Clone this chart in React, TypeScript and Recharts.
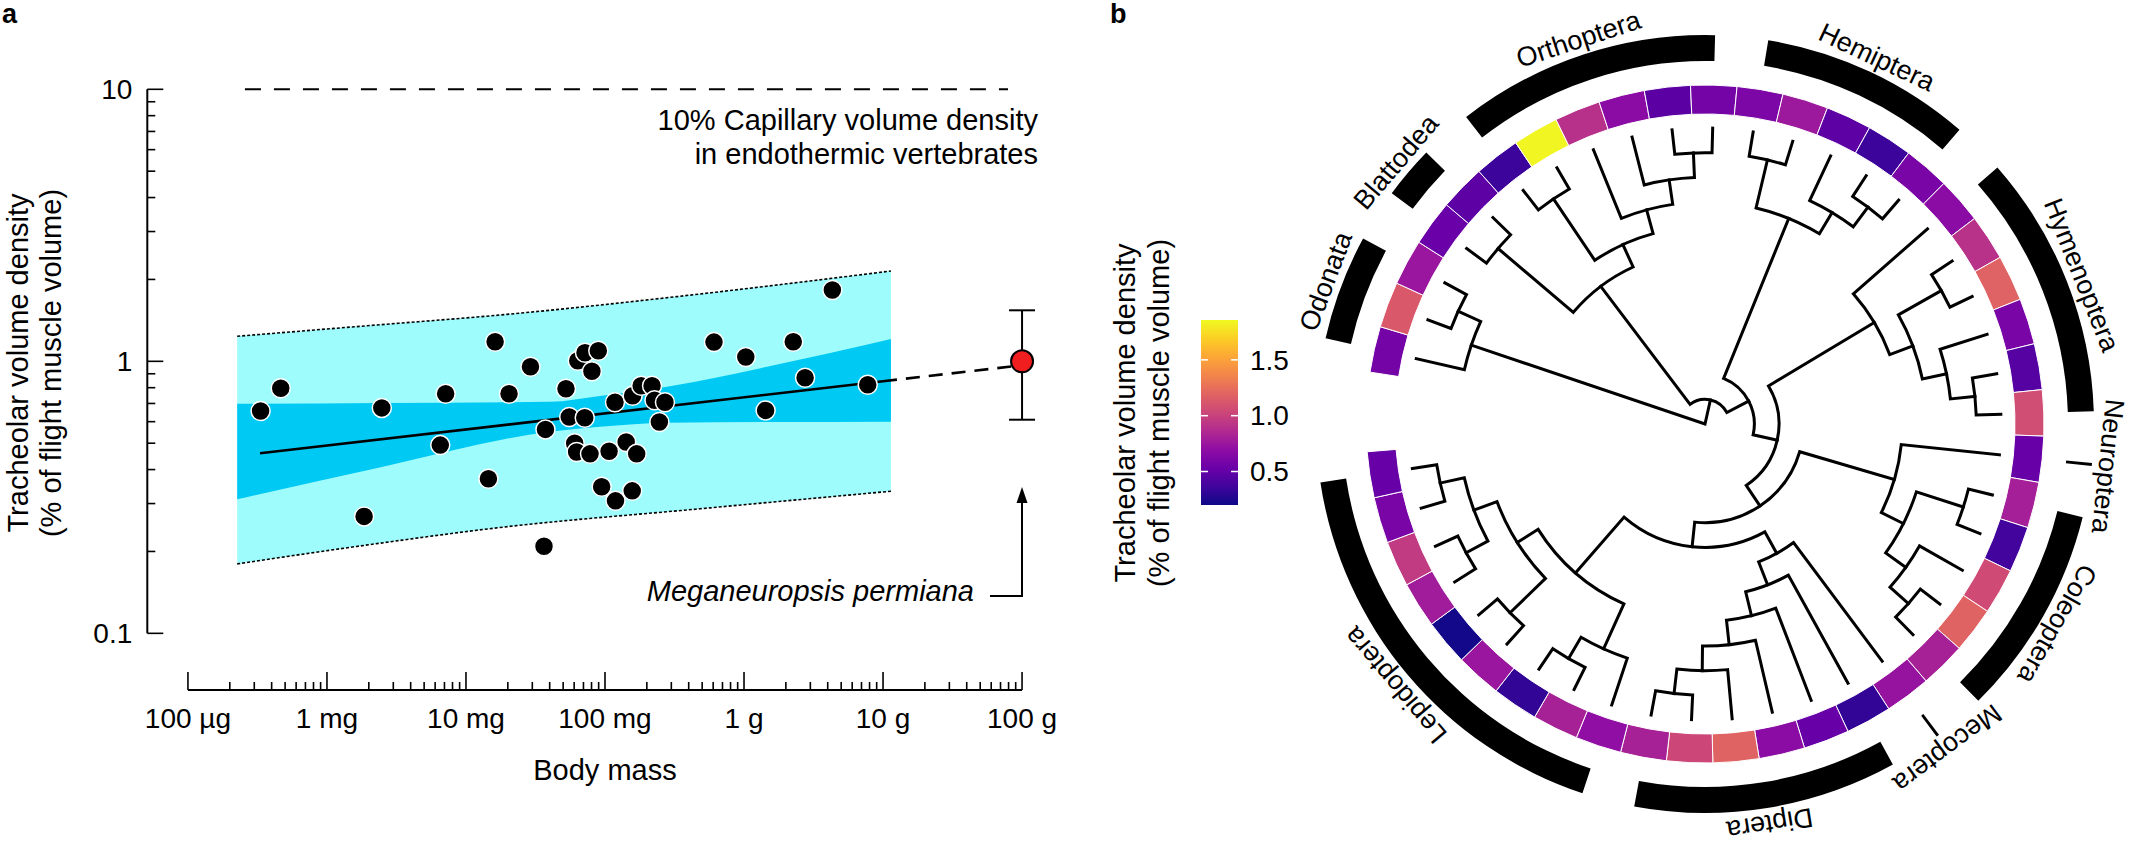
import React from 'react';
import {
  ComposedChart, Scatter, Line, Area, XAxis, YAxis, ReferenceLine, ErrorBar,
  Customized, PieChart, Pie, Cell,
} from 'recharts';

const FONT = '"Liberation Sans", Arial, Helvetica, sans-serif';

// ---------------- Panel a data ----------------
const bodyMassG = [
  0.000333, 0.000465, 0.00248, 0.00185, 0.00653, 0.00714, 0.0162, 0.0204, 0.0291, 0.0145,
  0.0364, 0.0373, 0.0524, 0.0637, 0.0718, 0.0895, 0.0805, 0.0553, 0.0715, 0.0605,
  0.0625, 0.078, 0.107, 0.142, 0.169, 0.0946, 0.119, 0.157, 0.118, 0.158,
  0.182, 0.218, 0.227, 0.27, 0.246, 0.608, 1.03, 1.43, 2.26, 2.75, 4.32, 7.76,
];
const tracheolarDensity = [
  0.657, 0.796, 0.674, 0.269, 0.492, 0.76, 1.18, 0.76, 0.955, 0.37,
  0.209, 0.562, 0.793, 1.005, 1.075, 1.094, 0.919, 0.624, 0.62, 0.5,
  0.464, 0.457, 0.467, 0.505, 0.457, 0.346, 0.307, 0.334, 0.707, 0.747,
  0.813, 0.813, 0.719, 0.707, 0.598, 1.177, 1.037, 0.66, 1.18, 0.87, 1.828, 0.82,
];

const fitMassG = [0.00033, 10];
const fitDensity = [0.459, 0.845];
const extMassG = [10, 100];
const extDensity = [0.845, 0.967];

const predMassG = [0.000226, 0.00204, 0.0176, 0.482, 11.4];
const predLow = [0.18, 0.212, 0.245, 0.287, 0.333];
const predHigh = [1.236, 1.354, 1.48, 1.768, 2.148];

const confMassG = [0.000226, 0.00253, 0.0402, 0.092, 0.279, 1.464, 11.4];
const confLow = [0.311, 0.41, 0.551, 0.575, 0.595, 0.598, 0.6];
const confHigh = [0.698, 0.703, 0.71, 0.746, 0.806, 0.955, 1.208];

const meganeuropsisMassG = [100];
const meganeuropsisDensity = [1.0];
const meganeuropsisErrLow = [0.39];
const meganeuropsisErrHigh = [0.54];

const capillaryDensity = 10;
const capillarySpanG = [0.000257, 79.3];

const massTicks = [
  1e-4, 2e-4, 3e-4, 4e-4, 5e-4, 6e-4, 7e-4, 8e-4, 9e-4,
  1e-3, 2e-3, 3e-3, 4e-3, 5e-3, 6e-3, 7e-3, 8e-3, 9e-3,
  0.01, 0.02, 0.03, 0.04, 0.05, 0.06, 0.07, 0.08, 0.09,
  0.1, 0.2, 0.3, 0.4, 0.5, 0.6, 0.7, 0.8, 0.9,
  1, 2, 3, 4, 5, 6, 7, 8, 9,
  10, 20, 30, 40, 50, 60, 70, 80, 90,
  100,
];
const massMajor = [1e-4, 1e-3, 1e-2, 1e-1, 1, 10, 100];
const massMajorLabels = ['100 µg', '1 mg', '10 mg', '100 mg', '1 g', '10 g', '100 g'];

const densityTicks = [
  0.1, 0.2, 0.3, 0.4, 0.5, 0.6, 0.7, 0.8, 0.9,
  1, 2, 3, 4, 5, 6, 7, 8, 9, 10,
];
const densityMajor = [0.1, 1, 10];
const densityMajorLabels = ['0.1', '1', '10'];

const X_DOMAIN = [5.1e-5, 187.5];
const Y_DOMAIN = [0.0619, 10];

// ---------------- Panel b data ----------------
const tipDensity = [
  0.58, 1.13, 0.75, 0.53, 0.48, 0.35, 1.84, 0.9, 0.68, 0.47, 0.58,
  0.61, 0.76, 0.48, 0.35, 0.6, 0.68, 0.91, 1.18, 0.6, 0.45, 1.06,
  0.52, 0.8, 0.37, 1.05, 1.19, 0.81, 0.73, 0.32, 0.52, 0.68, 1.19,
  1.03, 0.81, 0.7, 0.81, 0.32, 0.75, 0.22, 0.78, 0.96, 0.6, 0.52,
];
const cladeNames = ['Odonata', 'Blattodea', 'Orthoptera', 'Hemiptera', 'Hymenoptera', 'Neuroptera', 'Coleoptera', 'Mecoptera', 'Diptera', 'Lepidoptera'];
const cladeFirstTip = [1, 4, 6, 12, 17, 23, 24, 29, 30, 36];
const cladeLastTip = [3, 5, 11, 16, 22, 23, 28, 29, 35, 44];

type TreeNode = number | TreeNode[];
const phylogeny: TreeNode = [
  [1, [2, 3]],
  [
    [[4, 5], [[6, 7], [8, [9, [10, 11]]]]],
    [
      [[12, 13], [14, [15, 16]]],
      [
        [17, [[18, 19], [20, [21, 22]]]],
        [
          [23, [[24, 25], [26, [27, 28]]]],
          [
            [29, [30, [31, [32, [33, [34, 35]]]]]],
            [[36, [37, 38]], [[39, 40], [[41, 42], [43, 44]]]],
          ],
        ],
      ],
    ],
  ],
];

const colorbarTicks = [0.5, 1.0, 1.5];
const colorbarTickLabels = ['0.5', '1.0', '1.5'];
const CB_MIN = 0.2;
const CB_MAX = 1.857;

const PLASMA = ['#0d0887', '#41049d', '#6a00a8', '#8f0da4', '#b12a90', '#cc4778', '#e16462', '#f2844b', '#fca636', '#fcce25', '#f0f921'];

function hexToRgb(h: string) {
  return [parseInt(h.slice(1, 3), 16), parseInt(h.slice(3, 5), 16), parseInt(h.slice(5, 7), 16)];
}
function plasma(t: number) {
  const c = Math.max(0, Math.min(1, t)) * (PLASMA.length - 1);
  const i = Math.min(PLASMA.length - 2, Math.floor(c));
  const f = c - i;
  const a = hexToRgb(PLASMA[i]);
  const b = hexToRgb(PLASMA[i + 1]);
  const m = a.map((v, k) => Math.round(v + (b[k] - v) * f));
  return `rgb(${m[0]},${m[1]},${m[2]})`;
}
const densityColor = (v: number) => plasma((v - CB_MIN) / (CB_MAX - CB_MIN));

// ---------------- geometry (layout constants) ----------------
const CX = 625;
const CY = 424;
const TIP_R = 296;
const RING_IN = 310;
const RING_OUT = 339;
const BAR_IN = 363;
const BAR_OUT = 389;
const LABEL_R = 405;
const RING_START = 278.8; // degrees clockwise from north
const RING_END = 625.3;

const tipAngle = (i: number) => RING_START + (i - 0.5) * (RING_END - RING_START) / tipDensity.length;
const treeHeight = (n: TreeNode): number => (typeof n === 'number' ? 0 : 1 + Math.max(...n.map(treeHeight)));
const nodeAngle = (n: TreeNode): number =>
  typeof n === 'number' ? tipAngle(n) : (nodeAngle(n[0]) + nodeAngle(n[n.length - 1])) / 2;
const polar = (r: number, deg: number) => {
  const a = (deg * Math.PI) / 180;
  return [CX + r * Math.sin(a), CY - r * Math.cos(a)];
};
const pt = (p: number[]) => `${p[0].toFixed(2)},${p[1].toFixed(2)}`;

function buildTreePaths(root: TreeNode): string[] {
  const H = treeHeight(root);
  const unit = TIP_R / H;
  const rad = (n: TreeNode) => (H - treeHeight(n)) * unit;
  const out: string[] = [];
  const walk = (n: TreeNode) => {
    if (typeof n === 'number') return;
    const r = rad(n);
    const first = n[0];
    const last = n[n.length - 1];
    const a1 = nodeAngle(first);
    const a2 = nodeAngle(last);
    let d = `M${pt(polar(rad(first), a1))} L${pt(polar(r, a1))} `;
    if (r > 0.5) {
      const large = a2 - a1 > 180 ? 1 : 0;
      d += `A${r.toFixed(2)},${r.toFixed(2)} 0 ${large} 1 ${pt(polar(r, a2))}`;
    } else {
      d += `L${pt(polar(r, a2))}`;
    }
    d += ` L${pt(polar(rad(last), a2))}`;
    out.push(d);
    n.forEach(walk);
  };
  walk(root);
  return out;
}

// ---------------- chart rows ----------------
const insects = bodyMassG.map((m, i) => ({ m, v: tracheolarDensity[i] }));
const fitLine = fitMassG.map((m, i) => ({ m, v: fitDensity[i] }));
const extLine = extMassG.map((m, i) => ({ m, v: extDensity[i] }));
const predBand = predMassG.map((m, i) => ({ m, band: [predLow[i], predHigh[i]], lo: predLow[i], hi: predHigh[i] }));
const confBand = confMassG.map((m, i) => ({ m, band: [confLow[i], confHigh[i]] }));
const meganeuropsis = meganeuropsisMassG.map((m, i) => ({
  m, v: meganeuropsisDensity[i], err: [meganeuropsisErrLow[i], meganeuropsisErrHigh[i]],
}));
const ringCells = tipDensity.map((d, i) => ({ tip: i + 1, value: 1, density: d }));

const isMajor = (v: number, list: number[]) => list.findIndex((m) => Math.abs(m - v) / m < 1e-6);

const XTick = (props: any) => {
  const { x, y, payload } = props;
  const k = isMajor(payload.value, massMajor);
  return (
    <g>
      <line x1={x} x2={x} y1={y} y2={y - (k >= 0 ? 18 : 8)} stroke="#000" strokeWidth={1.6} />
      {k >= 0 && (
        <text x={x} y={y + 38} textAnchor="middle" fontSize={28} fontFamily={FONT} fill="#000">
          {massMajorLabels[k]}
        </text>
      )}
    </g>
  );
};

const YTick = (props: any) => {
  const { x, y, payload } = props;
  const k = isMajor(payload.value, densityMajor);
  return (
    <g>
      <line x1={x} x2={x + (k >= 0 ? 16 : 8)} y1={y} y2={y} stroke="#000" strokeWidth={1.6} />
      {k >= 0 && (
        <text x={x - 15} y={y} dy="0.35em" textAnchor="end" fontSize={28} fontFamily={FONT} fill="#000">
          {densityMajorLabels[k]}
        </text>
      )}
    </g>
  );
};

const InsectDot = (p: any) => <circle cx={p.cx} cy={p.cy} r={9.5} fill="#000" stroke="#fff" strokeWidth={1.5} />;
const RedDot = (p: any) => <circle cx={p.cx} cy={p.cy} r={11} fill="#f01e1e" stroke="#000" strokeWidth={2} />;

const PanelAAnnotations = () => (
  <g fontFamily={FONT} fill="#000">
    <text x={2} y={23} fontSize={27} fontWeight="bold">a</text>
    <text x={1038} y={130} textAnchor="end" fontSize={29}>10% Capillary volume density</text>
    <text x={1038} y={164} textAnchor="end" fontSize={29}>in endothermic vertebrates</text>
    <text x={974} y={601} textAnchor="end" fontSize={29} fontStyle="italic">Meganeuropsis permiana</text>
    <path d="M990,596 H1022 V501" stroke="#000" strokeWidth={2} fill="none" />
    <polygon points="1022,487 1016.5,503 1027.5,503" fill="#000" />
    <text x={605} y={780} textAnchor="middle" fontSize={29}>Body mass</text>
    <text transform="translate(28,363) rotate(-90)" textAnchor="middle" fontSize={29}>Tracheolar volume density</text>
    <text transform="translate(61,363) rotate(-90)" textAnchor="middle" fontSize={29}>(% of flight muscle volume)</text>
  </g>
);

const treePaths = buildTreePaths(phylogeny);

const PanelBOverlay = () => {
  const cbX = 121, cbY = 320, cbW = 37, cbH = 185;
  const cbYOf = (v: number) => cbY + cbH - ((v - CB_MIN) / (CB_MAX - CB_MIN)) * cbH;
  return (
    <g fontFamily={FONT} fill="#000">
      <defs>
        <linearGradient id="plasmaGrad" x1="0" y1="1" x2="0" y2="0">
          {PLASMA.map((c, i) => (
            <stop key={i} offset={i / (PLASMA.length - 1)} stopColor={c} />
          ))}
        </linearGradient>
      </defs>
      <text x={30} y={23} fontSize={27} fontWeight="bold">b</text>
      {treePaths.map((d, i) => (
        <path key={i} d={d} fill="none" stroke="#000" strokeWidth={3} strokeLinejoin="miter" strokeLinecap="square" />
      ))}
      {cladeNames.map((name, k) => {
        const mid = (tipAngle(cladeFirstTip[k]) + tipAngle(cladeLastTip[k])) / 2;
        const p = polar(LABEL_R, mid);
        return (
          <text key={name} transform={`translate(${p[0].toFixed(2)},${p[1].toFixed(2)}) rotate(${(mid % 360).toFixed(2)})`}
            textAnchor="middle" dominantBaseline="central" fontSize={27}>
            {name}
          </text>
        );
      })}
      <rect x={cbX} y={cbY} width={cbW} height={cbH} fill="url(#plasmaGrad)" />
      {colorbarTicks.map((v, i) => (
        <g key={v}>
          <line x1={cbX} x2={cbX + 7} y1={cbYOf(v)} y2={cbYOf(v)} stroke="#fff" strokeWidth={1.5} />
          <line x1={cbX + cbW - 7} x2={cbX + cbW} y1={cbYOf(v)} y2={cbYOf(v)} stroke="#fff" strokeWidth={1.5} />
          <text x={cbX + cbW + 12} y={cbYOf(v)} dy="0.35em" fontSize={28}>{colorbarTickLabels[i]}</text>
        </g>
      ))}
      <text transform="translate(55,413) rotate(-90)" textAnchor="middle" fontSize={29}>Tracheolar volume density</text>
      <text transform="translate(89,413) rotate(-90)" textAnchor="middle" fontSize={29}>(% of flight muscle volume)</text>
    </g>
  );
};

export default function App() {
  return (
    <div style={{ position: 'absolute', left: 0, top: 0, width: 2132, height: 846, background: '#fff', fontFamily: FONT }}>
      <div style={{ position: 'absolute', left: 0, top: 0 }}>
        <ComposedChart width={1080} height={846} margin={{ top: 89.3, right: 20, bottom: 126, left: 87.3 }}>
          <XAxis dataKey="m" type="number" scale="log" domain={X_DOMAIN} allowDataOverflow ticks={massTicks}
            interval={0} tick={XTick} tickLine={false} axisLine={false} tickSize={0} tickMargin={0} height={30} />
          <YAxis type="number" scale="log" domain={Y_DOMAIN} allowDataOverflow ticks={densityTicks}
            interval={0} tick={YTick} tickLine={false} axisLine={false} tickSize={0} tickMargin={0} width={60} />
          <Area data={predBand} dataKey="band" type="monotone" fill="#9efcfd" fillOpacity={1} stroke="none"
            dot={false} activeDot={false} isAnimationActive={false} />
          <Area data={confBand} dataKey="band" type="monotone" fill="#00c9f4" fillOpacity={1} stroke="none"
            dot={false} activeDot={false} isAnimationActive={false} />
          <Line data={predBand} dataKey="hi" type="monotone" stroke="#000" strokeWidth={1.6} strokeDasharray="3 2"
            dot={false} activeDot={false} isAnimationActive={false} />
          <Line data={predBand} dataKey="lo" type="monotone" stroke="#000" strokeWidth={1.6} strokeDasharray="3 2"
            dot={false} activeDot={false} isAnimationActive={false} />
          <Line data={fitLine} dataKey="v" type="linear" stroke="#000" strokeWidth={2.6}
            dot={false} activeDot={false} isAnimationActive={false} />
          <Line data={extLine} dataKey="v" type="linear" stroke="#000" strokeWidth={2.6} strokeDasharray="14 9"
            dot={false} activeDot={false} isAnimationActive={false} />
          <ReferenceLine segment={[{ x: capillarySpanG[0], y: capillaryDensity }, { x: capillarySpanG[1], y: capillaryDensity }]}
            stroke="#000" strokeWidth={2} strokeDasharray="16 13" ifOverflow="visible" />
          <ReferenceLine segment={[{ x: X_DOMAIN[0], y: densityMajor[0] }, { x: X_DOMAIN[0], y: densityMajor[2] }]}
            stroke="#000" strokeWidth={2} ifOverflow="visible" />
          <ReferenceLine segment={[{ x: massMajor[0], y: Y_DOMAIN[0] }, { x: massMajor[6], y: Y_DOMAIN[0] }]}
            stroke="#000" strokeWidth={2} ifOverflow="visible" />
          <Scatter data={insects} dataKey="v" shape={InsectDot} isAnimationActive={false} />
          <Scatter data={meganeuropsis} dataKey="v" shape={RedDot} isAnimationActive={false}>
            <ErrorBar dataKey="err" direction="y" width={13} strokeWidth={2} stroke="#000" />
          </Scatter>
          <Customized component={PanelAAnnotations} />
        </ComposedChart>
      </div>
      <div style={{ position: 'absolute', left: 1080, top: 0 }}>
        <PieChart width={1052} height={846} margin={{ top: 0, right: 0, bottom: 0, left: 0 }}>
          <Pie data={ringCells} dataKey="value" cx={CX} cy={CY} innerRadius={RING_IN} outerRadius={RING_OUT}
            startAngle={90 - RING_START} endAngle={90 - RING_END} stroke="#fff" strokeWidth={1}
            isAnimationActive={false}>
            {ringCells.map((c) => (
              <Cell key={c.tip} fill={densityColor(c.density)} />
            ))}
          </Pie>
          {cladeNames.map((name, k) => {
            const single = cladeFirstTip[k] === cladeLastTip[k];
            const a1 = tipAngle(cladeFirstTip[k]) - (single ? 0.22 : 0);
            const a2 = tipAngle(cladeLastTip[k]) + (single ? 0.22 : 0);
            return (
              <Pie key={name} data={[{ name, value: 1 }]} dataKey="value" cx={CX} cy={CY}
                innerRadius={BAR_IN} outerRadius={BAR_OUT} startAngle={90 - a1} endAngle={90 - a2}
                stroke="none" isAnimationActive={false}>
                <Cell fill="#000" />
              </Pie>
            );
          })}
          <Customized component={PanelBOverlay} />
        </PieChart>
      </div>
    </div>
  );
}
